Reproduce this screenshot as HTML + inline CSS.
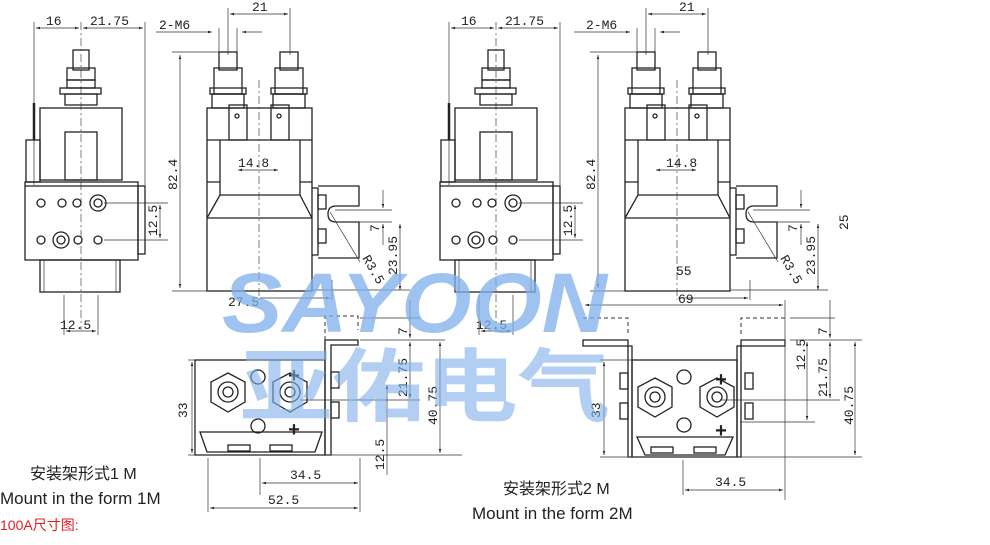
<!DOCTYPE html>
<html><head><meta charset="utf-8"><style>
html,body{margin:0;padding:0;background:#fff;width:990px;height:545px;overflow:hidden}
svg{display:block}
text{font-family:"Liberation Mono","DejaVu Sans Mono",monospace;fill:#222}
.l{fill:none;stroke:#222;stroke-width:1.3}
.t{fill:none;stroke:#333;stroke-width:0.7}
.d{fill:none;stroke:#444;stroke-width:0.7;stroke-dasharray:8 3 2 3}
.h{fill:none;stroke:#333;stroke-width:1;stroke-dasharray:4 3}
</style></head><body>
<svg width="990" height="545" viewBox="0 0 990 545" xmlns="http://www.w3.org/2000/svg">
<defs>
<marker id="a" viewBox="0 0 10 10" refX="10" refY="5" markerWidth="6" markerHeight="6" orient="auto-start-reverse"><path d="M0,2 L10,5 L0,8z" fill="#222"/></marker>
<g id="front">
 <line class="t" x1="34" y1="22" x2="34" y2="185"/><line class="t" x1="145" y1="22" x2="145" y2="185"/>
 <line class="t" x1="36" y1="28" x2="79" y2="28" marker-start="url(#a)" marker-end="url(#a)"/>
 <line class="t" x1="83" y1="28" x2="143" y2="28" marker-start="url(#a)" marker-end="url(#a)"/>
 <line class="d" x1="81" y1="22" x2="81" y2="330"/>
 <rect class="l" x="73" y="50" width="16" height="20"/>
 <rect class="l" x="67" y="68" width="28" height="12"/><rect class="l" x="67" y="80" width="28" height="8"/>
 <rect class="l" x="60" y="88" width="41" height="6"/><rect class="l" x="65" y="94" width="32" height="11"/>
 <rect class="l" x="40" y="108" width="82" height="72"/>
 <rect class="l" x="65" y="132" width="32" height="48"/>
 <line x1="34" y1="103" x2="34" y2="140" stroke="#222" stroke-width="2.5"/>
 <rect class="l" x="26" y="140" width="14" height="42"/>
 <rect class="l" x="25" y="182" width="113" height="78"/>
 <line class="l" x1="25" y1="186" x2="138" y2="186"/>
 <rect class="l" x="138" y="186" width="7" height="68"/>
 <rect class="l" x="40" y="260" width="80" height="32"/>
 <line class="t" x1="44" y1="260" x2="44" y2="292"/><line class="t" x1="116" y1="260" x2="116" y2="292"/>
 <circle class="l" cx="41" cy="203" r="4"/><circle class="l" cx="62" cy="203" r="4"/><circle class="l" cx="77" cy="203" r="4"/>
 <circle class="l" cx="98" cy="203" r="8"/><circle class="l" cx="98" cy="203" r="4"/>
 <circle class="l" cx="41" cy="240" r="4"/><circle class="l" cx="61" cy="240" r="8"/><circle class="l" cx="61" cy="240" r="4"/>
 <circle class="l" cx="78" cy="240" r="4"/><circle class="l" cx="98" cy="240" r="4"/>
 <line class="t" x1="104" y1="203" x2="168" y2="203"/><line class="t" x1="104" y1="240" x2="168" y2="240"/>
 <line class="t" x1="160" y1="205" x2="160" y2="238" marker-start="url(#a)" marker-end="url(#a)"/>
 <line class="t" x1="64" y1="295" x2="64" y2="335"/><line class="t" x1="98" y1="295" x2="98" y2="335"/>
 <line class="t" x1="66" y1="331" x2="96" y2="331" marker-start="url(#a)" marker-end="url(#a)"/>
</g>
<g id="side">
 <line class="t" x1="228" y1="8" x2="228" y2="55"/><line class="t" x1="290" y1="8" x2="290" y2="55"/>
 <line class="t" x1="230" y1="14" x2="288" y2="14" marker-start="url(#a)" marker-end="url(#a)"/>
 <line class="t" x1="156" y1="32" x2="212" y2="32" marker-end="url(#a)"/><line class="t" x1="262" y1="32" x2="242" y2="32" marker-end="url(#a)"/>
 <line class="t" x1="219" y1="28" x2="219" y2="55"/><line class="t" x1="237" y1="28" x2="237" y2="55"/>
 <line class="t" x1="172" y1="52" x2="220" y2="52"/><line class="t" x1="172" y1="291" x2="220" y2="291"/>
 <line class="t" x1="180" y1="55" x2="180" y2="288" marker-start="url(#a)" marker-end="url(#a)"/>
 <rect class="l" x="219" y="52" width="18" height="18"/><rect class="l" x="280" y="52" width="18" height="18"/>
 <rect class="l" x="214" y="68" width="28" height="26"/><rect class="l" x="275" y="68" width="28" height="26"/>
 <rect class="l" x="210" y="88" width="36" height="6"/><rect class="l" x="271" y="88" width="36" height="6"/>
 <rect class="l" x="212" y="94" width="32" height="14"/><rect class="l" x="273" y="94" width="32" height="14"/>
 <rect class="l" x="207" y="108" width="105" height="183"/>
 <rect class="l" x="229" y="105" width="18" height="35"/><rect class="l" x="271" y="105" width="18" height="35"/>
 <circle class="l" cx="237" cy="116" r="2"/><circle class="l" cx="279" cy="116" r="2"/>
 <path class="l" d="M207 140 H312 M220 140 V195 H300 V140 M207 182 H220 M300 182 H312 M207 218 L220 195 M312 218 L300 195 M207 218 H312"/>
 <line class="t" x1="238" y1="170" x2="278" y2="170" marker-start="url(#a)" marker-end="url(#a)"/>
 <line class="d" x1="259" y1="80" x2="259" y2="300"/>
 <path class="l" d="M312 188 H318 V255 H312 M318 186 H359 V206 H336 Q328 206 328 214 Q328 222 336 222 H359 V258 H318"/>
 <rect class="l" x="318" y="195" width="8" height="14"/><rect class="l" x="318" y="229" width="8" height="14"/>
 <line class="t" x1="330" y1="212" x2="360" y2="262"/>
 <line class="t" x1="335" y1="210" x2="392" y2="210"/><line class="t" x1="335" y1="222" x2="392" y2="222"/>
 <line class="t" x1="383" y1="190" x2="383" y2="208" marker-end="url(#a)"/><line class="t" x1="383" y1="245" x2="383" y2="224" marker-end="url(#a)"/>
 <line class="t" x1="400" y1="224" x2="400" y2="290" marker-start="url(#a)" marker-end="url(#a)"/>
 <line class="t" x1="312" y1="290" x2="410" y2="290"/>
 <line class="t" x1="332" y1="280" x2="332" y2="300"/><line class="t" x1="260" y1="298" x2="330" y2="298" marker-end="url(#a)"/>
</g>
</defs>
<g fill="none"><use href="#front"/><use href="#side"/>
<use href="#front" transform="translate(415,0)"/><use href="#side" transform="translate(418,0)"/></g>

<g>
 <rect class="l" x="195" y="360" width="130" height="95"/>
 <path class="l" d="M325 340 V455 H331 V345 H358 V340 Z"/>
 <path class="h" d="M325 340 V316 H358 V330"/>
 <path class="l" d="M200 432 H322 L315 452 H207 Z"/>
 <rect class="l" x="228" y="445" width="22" height="6"/><rect class="l" x="270" y="445" width="22" height="6"/>
 <polygon class="l" points="228,373 245,382 245,402 228,412 211,402 211,382"/><circle class="l" cx="228" cy="392" r="10"/><circle class="l" cx="228" cy="392" r="5"/>
 <polygon class="l" points="290,373 307,382 307,402 290,412 273,402 273,382"/><circle class="l" cx="290" cy="392" r="10"/><circle class="l" cx="290" cy="392" r="5"/>
 <circle class="l" cx="258" cy="377" r="7"/><circle class="l" cx="258" cy="426" r="7"/>
 <text x="288" y="382" font-size="20" font-weight="bold">+</text><text x="288" y="436" font-size="20" font-weight="bold">+</text>
 <rect class="l" x="331" y="372" width="8" height="16"/><rect class="l" x="331" y="402" width="8" height="16"/>
 <line class="t" x1="188" y1="360" x2="195" y2="360"/><line class="t" x1="188" y1="455" x2="462" y2="455"/>
 <line class="t" x1="192" y1="362" x2="192" y2="453" marker-start="url(#a)" marker-end="url(#a)"/>
 <line class="t" x1="360" y1="340" x2="445" y2="340"/><line class="t" x1="360" y1="318" x2="420" y2="318"/>
 <line class="t" x1="410" y1="300" x2="410" y2="338" marker-end="url(#a)"/>
 <line class="t" x1="410" y1="342" x2="410" y2="398" marker-start="url(#a)" marker-end="url(#a)"/>
 <line class="t" x1="440" y1="342" x2="440" y2="453" marker-start="url(#a)" marker-end="url(#a)"/>
 <line class="t" x1="300" y1="400" x2="420" y2="400"/>
 <line class="t" x1="387" y1="385" x2="387" y2="475" marker-start="url(#a)"/>
 <line class="t" x1="208" y1="458" x2="208" y2="512"/><line class="t" x1="260" y1="458" x2="260" y2="495"/><line class="t" x1="360" y1="458" x2="360" y2="512"/>
 <line class="t" x1="262" y1="483" x2="358" y2="483" marker-start="url(#a)" marker-end="url(#a)"/>
 <line class="t" x1="210" y1="508" x2="358" y2="508" marker-start="url(#a)" marker-end="url(#a)"/>
</g>
<g>
 <rect class="l" x="632" y="360" width="105" height="97"/>
 <path class="l" d="M583 340 H628 V457 H632 V346 H583 Z"/>
 <path class="l" d="M785 340 H741 V457 H737 V346 H785 Z"/>
 <path class="h" d="M583 318 H628 V336 M785 318 H741 V336"/>
 <path class="l" d="M637 437 H733 L725 455 H645 Z"/>
 <rect class="l" x="651" y="447" width="22" height="6"/><rect class="l" x="694" y="447" width="22" height="6"/>
 <polygon class="l" points="655,378 672,387 672,407 655,417 638,407 638,387"/><circle class="l" cx="655" cy="397" r="10"/><circle class="l" cx="655" cy="397" r="5"/>
 <polygon class="l" points="717,378 734,387 734,407 717,417 700,407 700,387"/><circle class="l" cx="717" cy="397" r="10"/><circle class="l" cx="717" cy="397" r="5"/>
 <circle class="l" cx="684" cy="377" r="7"/><circle class="l" cx="684" cy="425" r="7"/>
 <text x="715" y="386" font-size="20" font-weight="bold">+</text><text x="715" y="437" font-size="20" font-weight="bold">+</text>
 <rect class="l" x="620" y="373" width="8" height="16"/><rect class="l" x="620" y="403" width="8" height="16"/>
 <rect class="l" x="745" y="373" width="8" height="16"/><rect class="l" x="745" y="403" width="8" height="16"/>
 <line class="t" x1="600" y1="360" x2="632" y2="360"/><line class="t" x1="600" y1="457" x2="862" y2="457"/>
 <line class="t" x1="604" y1="362" x2="604" y2="455" marker-start="url(#a)" marker-end="url(#a)"/>
 <line class="t" x1="585" y1="305" x2="783" y2="305" marker-start="url(#a)" marker-end="url(#a)"/>
 <line class="t" x1="785" y1="300" x2="785" y2="500"/>
 <line class="t" x1="790" y1="340" x2="862" y2="340"/><line class="t" x1="790" y1="318" x2="835" y2="318"/>
 <line class="t" x1="830" y1="300" x2="830" y2="338" marker-end="url(#a)"/>
 <line class="t" x1="830" y1="342" x2="830" y2="398" marker-start="url(#a)" marker-end="url(#a)"/>
 <line class="t" x1="807" y1="342" x2="807" y2="420" marker-start="url(#a)" marker-end="url(#a)"/>
 <line class="t" x1="855" y1="342" x2="855" y2="455" marker-start="url(#a)" marker-end="url(#a)"/>
 <line class="t" x1="720" y1="400" x2="840" y2="400"/><line class="t" x1="740" y1="422" x2="815" y2="422"/>
 <line class="t" x1="683" y1="460" x2="683" y2="495"/>
 <line class="t" x1="685" y1="490" x2="783" y2="490" marker-start="url(#a)" marker-end="url(#a)"/>
</g>

<g font-size="13">
 <text x="46" y="25">16</text><text x="90" y="25">21.75</text>
 <text x="252" y="11">21</text><text x="159" y="29">2-M6</text>
 <text x="238" y="167">14.8</text>
 <text x="228" y="306">27.5</text><text x="60" y="329">12.5</text>
 <text transform="translate(177,190) rotate(-90)">82.4</text>
 <text transform="translate(157,236) rotate(-90)">12.5</text>
 <text transform="translate(379,232) rotate(-90)">7</text>
 <text transform="translate(397,275) rotate(-90)">23.95</text>
 <text transform="translate(362,258) rotate(60)">R3.5</text>
 <text x="461" y="25">16</text><text x="505" y="25">21.75</text>
 <text x="679" y="11">21</text><text x="586" y="29">2-M6</text>
 <text x="666" y="167">14.8</text>
 <text x="676" y="275">55</text><text x="678" y="303">69</text><text x="476" y="329">12.5</text>
 <text transform="translate(595,190) rotate(-90)">82.4</text>
 <text transform="translate(572,236) rotate(-90)">12.5</text>
 <text transform="translate(797,232) rotate(-90)">7</text>
 <text transform="translate(815,275) rotate(-90)">23.95</text>
 <text transform="translate(848,230) rotate(-90)">25</text>
 <text transform="translate(780,258) rotate(60)">R3.5</text>
 <text transform="translate(187,418) rotate(-90)">33</text>
 <text transform="translate(407,335) rotate(-90)">7</text>
 <text transform="translate(407,397) rotate(-90)">21.75</text>
 <text transform="translate(437,425) rotate(-90)">40.75</text>
 <text transform="translate(384,470) rotate(-90)">12.5</text>
 <text x="290" y="479">34.5</text><text x="268" y="504">52.5</text>
 <text transform="translate(600,418) rotate(-90)">33</text>
 <text transform="translate(827,335) rotate(-90)">7</text>
 <text transform="translate(805,370) rotate(-90)">12.5</text>
 <text transform="translate(827,397) rotate(-90)">21.75</text>
 <text transform="translate(853,425) rotate(-90)">40.75</text>
 <text x="715" y="486">34.5</text>
</g>

<text x="222" y="332" font-size="84" font-weight="bold" font-style="italic" textLength="385" lengthAdjust="spacingAndGlyphs" style="font-family:'Liberation Sans',sans-serif;fill:#7fb0ec;opacity:0.75">SAYOON</text>
<text x="240" y="415" font-size="80" font-weight="bold" textLength="370" lengthAdjust="spacingAndGlyphs" style="font-family:'Liberation Sans','Noto Sans CJK SC',sans-serif;fill:#7fb0ec;opacity:0.6">亚佑电气</text>

<text x="30" y="479" font-size="16" style="font-family:'Liberation Sans','Noto Sans CJK SC',sans-serif">安装架形式1 M</text>
<text x="0" y="504" font-size="17" style="font-family:'Liberation Sans',sans-serif">Mount in the form 1M</text>
<text x="0" y="530" font-size="14" style="font-family:'Liberation Sans','Noto Sans CJK SC',sans-serif;fill:#e02020">100A尺寸图:</text>
<text x="503" y="494" font-size="16" style="font-family:'Liberation Sans','Noto Sans CJK SC',sans-serif">安装架形式2 M</text>
<text x="472" y="519" font-size="17" style="font-family:'Liberation Sans',sans-serif">Mount in the form 2M</text>
</svg>
</body></html>
